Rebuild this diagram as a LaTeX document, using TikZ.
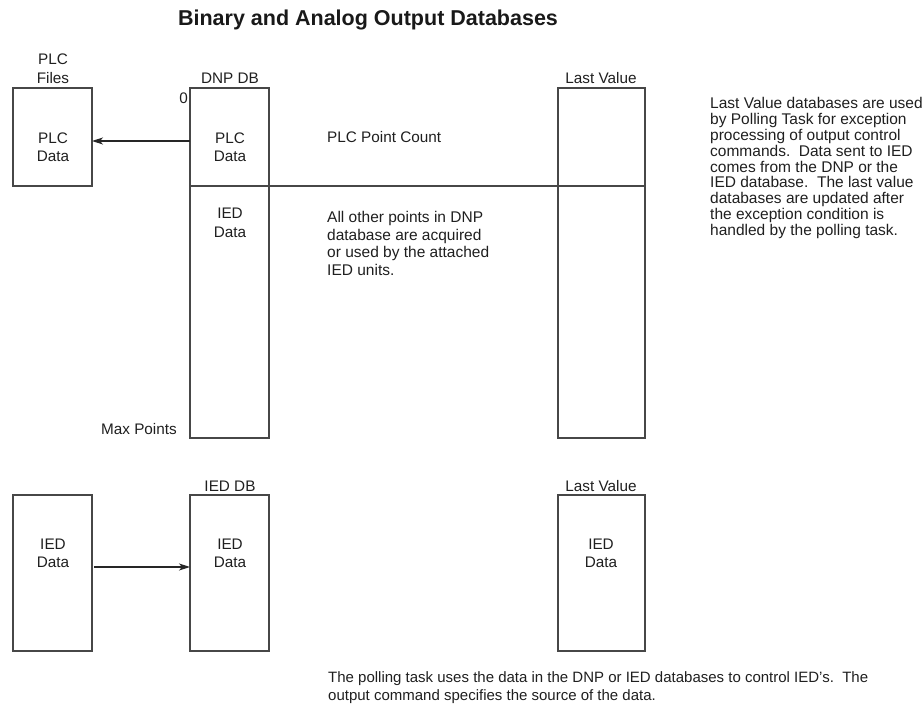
\documentclass[tikz,border=0pt]{standalone}
\usepackage{fontspec}
\setmainfont{Liberation Sans}
\usetikzlibrary{arrows.meta}
\begin{document}
\begin{tikzpicture}[x=1pt,y=-1pt,
  box/.style={draw=black!72, line width=1.3pt, inner sep=0pt, outer sep=0pt},
  lbl/.style={font=\fontsize{15.3}{18.5}\selectfont, text=black!88, inner sep=0pt, align=center},
  para/.style={text=black!88, inner sep=0pt, align=left, anchor=north west},
  arr/.style={-{Stealth[length=11pt,width=7pt,inset=3pt]}, line width=1.2pt, draw=black!85},
  divline/.style={draw=black!72, line width=1.3pt}]
\useasboundingbox (0,0) rectangle (924,708);

% title
\node[inner sep=0pt, font=\fontsize{21.5}{25}\bfseries, text=black!90] (title) at (368,20) {Binary and Analog Output Databases};

% ---------- top row ----------
\node[box, minimum width=79pt, minimum height=98pt] (plcbox) at (52.5,137) {};
\node[lbl] (plcfiles) at (53,68.5) {PLC\\Files};
\node[lbl] (plcdata1) at (53,147) {PLC\\Data};

\node[box, minimum width=79pt, minimum height=350pt] (dnp) at (229.5,263) {};
\node[lbl] (dnplbl) at (230,78) {DNP DB};
\node[lbl, anchor=east] (zero) at (188,98) {0};
\node[lbl] (dnpplc) at (230,147) {PLC\\Data};
\node[lbl] (dnpied) at (230,223) {IED\\Data};
\node[lbl, anchor=east] (maxpts) at (177,429) {Max Points};

\node[box, minimum width=87pt, minimum height=350pt] (lv1) at (601.5,263) {};
\node[lbl] (lv1lbl) at (601,78) {Last Value};

\coordinate (divy) at (0,186);
\draw[divline] (dnp.west |- divy) -- (lv1.east |- divy);

\coordinate (arr1y) at (0,141);
\draw[arr] (dnp.west |- arr1y) -- (plcbox.east |- arr1y);

\node[lbl, anchor=west] (pcount) at (327,137) {PLC Point Count};
\node[para, font=\fontsize{15.5}{17.7}\selectfont] (other) at (327,211)
  {All other points in DNP\\database are acquired\\or used by the attached\\IED units.};

\node[para, font=\fontsize{15.5}{15.9}\selectfont] (lvnote) at (710,97)
  {Last Value databases are used\\by Polling Task for exception\\processing of output control\\commands.\ \ Data sent to IED\\comes from the DNP or the\\IED database.\ \ The last value\\databases are updated after\\the exception condition is\\handled by the polling task.};

% ---------- bottom row ----------
\node[box, minimum width=79pt, minimum height=156pt] (iedsrc) at (52.5,573) {};
\node[lbl] (iedsrctxt) at (53,553.5) {IED\\Data};

\node[box, minimum width=79pt, minimum height=156pt] (ieddb) at (229.5,573) {};
\node[lbl] (ieddblbl) at (230,486) {IED DB};
\node[lbl] (ieddbtxt) at (230,553.5) {IED\\Data};

\node[box, minimum width=87pt, minimum height=156pt] (lv2) at (601.5,573) {};
\node[lbl] (lv2lbl) at (601,486) {Last Value};
\node[lbl] (lv2txt) at (601,553.5) {IED\\Data};

\coordinate (arr2y) at (0,567);
\draw[arr] ([xshift=2pt]iedsrc.east |- arr2y) -- (ieddb.west |- arr2y);

\node[para, font=\fontsize{15}{18}\selectfont] (pollnote) at (328,671)
  {The polling task uses the data in the DNP or IED databases to control IED's.\ \ The\\output command specifies the source of the data.};
\end{tikzpicture}
\end{document}
